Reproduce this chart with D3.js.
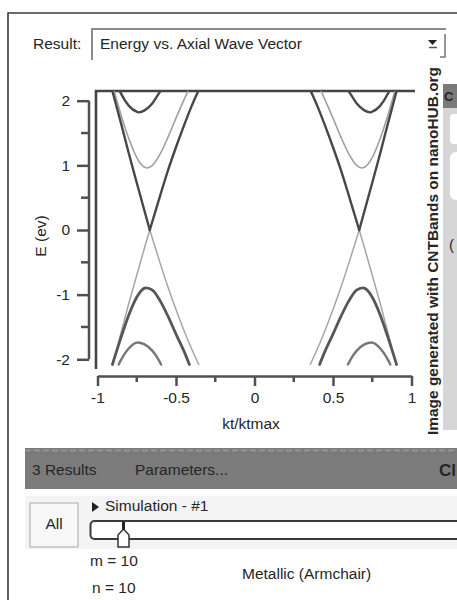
<!DOCTYPE html>
<html>
<head>
  <meta charset="utf-8">
  <title>CNTBands</title>
  <script src="https://cdn.jsdelivr.net/npm/d3@7"></script>
  <style>
    body { margin: 0; background: #fff; }
    text { font-family: "Liberation Sans", Arial, sans-serif; fill: #262626; }
  </style>
</head>
<body>
  <svg width="457" height="600" id="chart"></svg>
  <script>
    // axis ticks
    const xTicks = [-1, -0.5, 0, 0.5, 1];
    const xMinorTicks = [-0.75, -0.25, 0.25, 0.75];
    const yTicks = [-2, -1, 0, 1, 2];
    const yMinorTicks = [-1.5, -0.5, 0.5, 1.5];

    // bands: [kt/ktmax, E (eV)], cut where they leave the window
    const crossUp = [
      [[-0.905, 2.15], [-0.85, 1.65], [-0.80, 1.18], [-0.75, 0.73], [-0.70, 0.29], [-0.667, 0]],
      [[-0.667, 0], [-0.60, 0.54], [-0.55, 0.93], [-0.50, 1.28], [-0.45, 1.61], [-0.40, 1.92], [-0.358, 2.15]],
      [[0.358, 2.15], [0.40, 1.92], [0.45, 1.61], [0.50, 1.28], [0.55, 0.93], [0.60, 0.54], [0.667, 0]],
      [[0.667, 0], [0.70, 0.29], [0.75, 0.73], [0.80, 1.18], [0.85, 1.65], [0.905, 2.15]]
    ];
    const crossDown = [
      [[-0.905, -2.08], [-0.90, -2.04], [-0.85, -1.59], [-0.80, -1.13], [-0.75, -0.70], [-0.70, -0.27], [-0.667, 0]],
      [[-0.667, 0], [-0.60, -0.52], [-0.55, -0.89], [-0.50, -1.23], [-0.45, -1.55], [-0.40, -1.84], [-0.355, -2.08]],
      [[0.355, -2.08], [0.40, -1.84], [0.45, -1.55], [0.50, -1.23], [0.55, -0.89], [0.60, -0.52], [0.667, 0]],
      [[0.667, 0], [0.70, -0.27], [0.75, -0.70], [0.80, -1.13], [0.85, -1.59], [0.90, -2.04], [0.905, -2.08]]
    ];
    const sub1Up = [
      [[-0.894, 2.15], [-0.85, 1.78], [-0.80, 1.41], [-0.75, 1.12], [-0.70, 0.97], [-0.684, 0.96], [-0.65, 1.00], [-0.60, 1.18], [-0.55, 1.44], [-0.50, 1.73], [-0.45, 2.01], [-0.424, 2.15]],
      [[0.424, 2.15], [0.45, 2.01], [0.50, 1.73], [0.55, 1.44], [0.60, 1.18], [0.65, 1.00], [0.684, 0.96], [0.70, 0.97], [0.75, 1.12], [0.80, 1.41], [0.85, 1.78], [0.894, 2.15]]
    ];
    const sub1Down = [
      [[-0.905, -2.08], [-0.85, -1.66], [-0.80, -1.31], [-0.75, -1.04], [-0.70, -0.90], [-0.69, -0.895], [-0.65, -0.93], [-0.60, -1.10], [-0.55, -1.34], [-0.50, -1.61], [-0.45, -1.87], [-0.415, -2.08]],
      [[0.415, -2.08], [0.45, -1.87], [0.50, -1.61], [0.55, -1.34], [0.60, -1.10], [0.65, -0.93], [0.69, -0.895], [0.70, -0.90], [0.75, -1.04], [0.80, -1.31], [0.85, -1.66], [0.905, -2.08]]
    ];
    const sub2Up = [
      [[-0.858, 2.15], [-0.85, 2.11], [-0.80, 1.92], [-0.75, 1.83], [-0.735, 1.82], [-0.70, 1.85], [-0.65, 1.96], [-0.62, 2.07], [-0.599, 2.15]],
      [[0.599, 2.15], [0.62, 2.07], [0.65, 1.96], [0.70, 1.85], [0.735, 1.82], [0.75, 1.83], [0.80, 1.92], [0.85, 2.11], [0.858, 2.15]]
    ];
    const sub2Down = [
      [[-0.865, -2.08], [-0.85, -2.01], [-0.80, -1.83], [-0.745, -1.74], [-0.70, -1.77], [-0.65, -1.87], [-0.62, -1.97], [-0.595, -2.08]],
      [[0.595, -2.08], [0.62, -1.97], [0.65, -1.87], [0.70, -1.77], [0.745, -1.74], [0.80, -1.83], [0.85, -2.01], [0.865, -2.08]]
    ];

    const svg = d3.select('#chart');

    // outer window frame (top + left only)
    svg.append('path').attr('d', 'M8,600 V13 H457')
      .attr('fill', 'none').attr('stroke', '#3a3a3a').attr('stroke-width', 1.6);

    // result selector
    svg.append('text').attr('x', 33).attr('y', 49).style('font-size', '15.5px').text('Result:');
    svg.append('path').attr('d', 'M92,60 V29 H446')
      .attr('fill', 'none').attr('stroke', '#8c8c8c').attr('stroke-width', 2);
    svg.append('text').attr('x', 100).attr('y', 49).style('font-size', '15.5px').text('Energy vs. Axial Wave Vector');
    svg.append('path').attr('d', 'M428,40 L437,40 L432.5,45 Z').attr('fill', '#222');
    svg.append('line').attr('x1', 429).attr('x2', 437).attr('y1', 47.5).attr('y2', 47.5)
      .attr('stroke', '#555').attr('stroke-width', 1.5);
    svg.append('path').attr('d', 'M445,34 V57 H440').attr('fill', 'none')
      .attr('stroke', '#777').attr('stroke-width', 1.5);

    // plot
    const xScale = d3.scaleLinear().domain([-1, 1]).range([97.5, 411.5]);
    const yScale = d3.scaleLinear().domain([-2.15, 2.15]).range([369, 91]);
    const axisColor = '#505050';

    svg.append('clipPath').attr('id', 'plotclip')
      .append('rect').attr('x', 96).attr('y', 91).attr('width', 320).attr('height', 279);

    // plot box: top and left edges
    svg.append('path')
      .attr('d', `M${96},${yScale(-2.15)} V${yScale(2.15)} H${415}`)
      .attr('fill', 'none').attr('stroke', '#444').attr('stroke-width', 2.6);

    const line = d3.line()
      .x(d => xScale(d[0]))
      .y(d => yScale(d[1]))
      .curve(d3.curveMonotoneX);

    const bands = [
      { parts: crossDown, color: '#a6a6a6', width: 1.5 },
      { parts: sub1Up, color: '#a0a0a0', width: 1.6 },
      { parts: sub2Down, color: '#777777', width: 2.4 },
      { parts: sub1Down, color: '#575757', width: 2.8 },
      { parts: sub2Up, color: '#4a4a4a', width: 2.4 },
      { parts: crossUp, color: '#474747', width: 2.4 }
    ];
    const bandGroup = svg.append('g').attr('clip-path', 'url(#plotclip)');
    bands.forEach(b => {
      bandGroup.selectAll(null)
        .data(b.parts)
        .join('path')
        .attr('d', line)
        .attr('fill', 'none')
        .attr('stroke', b.color)
        .attr('stroke-width', b.width)
        .attr('stroke-linejoin', 'round')
        .attr('stroke-linecap', 'round');
    });

    // x axis, ticks pointing down
    const xAxisY = 376;
    const xAxisG = svg.append('g').attr('transform', `translate(0,${xAxisY})`)
      .call(d3.axisBottom(xScale).tickValues(xTicks).tickSize(10).tickSizeOuter(0)
        .tickFormat(d => d3.format('')(d).replace('−', '-')));
    xAxisG.select('.domain').attr('stroke', axisColor).attr('stroke-width', 2.5);
    xAxisG.selectAll('.tick line').attr('stroke', axisColor).attr('stroke-width', 2.5);
    xAxisG.selectAll('.tick text').attr('y', 16).attr('dy', '0.71em')
      .style('font-size', '15.5px').style('font-family', '"Liberation Sans", Arial, sans-serif').attr('fill', '#262626');
    xAxisG.selectAll('.minor').data(xMinorTicks).join('line').attr('class', 'minor')
      .attr('x1', d => xScale(d)).attr('x2', d => xScale(d)).attr('y1', 0).attr('y2', 6)
      .attr('stroke', axisColor).attr('stroke-width', 2.5);

    // y axis, ticks pointing left
    const yAxisX = 89;
    const yAxisG = svg.append('g').attr('transform', `translate(${yAxisX},0)`)
      .call(d3.axisLeft(yScale).tickValues(yTicks).tickSize(12).tickSizeOuter(0)
        .tickFormat(d => d3.format('')(d).replace('−', '-')));
    yAxisG.select('.domain').attr('stroke', axisColor).attr('stroke-width', 2.5)
      .attr('d', `M0,${yScale(2)}V${yScale(-2)}`);
    yAxisG.selectAll('.tick line').attr('stroke', axisColor).attr('stroke-width', 2.5);
    yAxisG.selectAll('.tick text').attr('x', -19)
      .style('font-size', '15.5px').style('font-family', '"Liberation Sans", Arial, sans-serif').attr('fill', '#262626');
    yAxisG.selectAll('.minor').data(yMinorTicks).join('line').attr('class', 'minor')
      .attr('x1', -8).attr('x2', 0).attr('y1', d => yScale(d)).attr('y2', d => yScale(d))
      .attr('stroke', axisColor).attr('stroke-width', 2.5);

    // axis titles
    svg.append('text').attr('transform', 'translate(46,236) rotate(-90)')
      .attr('text-anchor', 'middle').style('font-size', '15.5px').text('E (ev)');
    svg.append('text').attr('x', 251).attr('y', 429)
      .attr('text-anchor', 'middle').style('font-size', '15.5px').text('kt/ktmax');

    // right side panel (clipped app chrome)
    svg.append('rect').attr('x', 443).attr('y', 84).attr('width', 14).attr('height', 346).attr('fill', '#d6d6d6');
    svg.append('rect').attr('x', 443).attr('y', 84).attr('width', 14).attr('height', 24).attr('fill', '#7a7a7a');
    svg.append('text').attr('x', 444).attr('y', 101).style('font-size', '13px').style('font-weight', 'bold')
      .attr('fill', '#ddd').text('C');
    svg.append('rect').attr('x', 450).attr('y', 114).attr('width', 12).attr('height', 30).attr('rx', 4).attr('fill', '#fff');
    svg.append('rect').attr('x', 450).attr('y', 152).attr('width', 12).attr('height', 48).attr('rx', 6).attr('fill', '#fff');
    svg.append('text').attr('x', 449).attr('y', 250).style('font-size', '15px').attr('fill', '#444').text('(');

    // credit text
    svg.append('text').attr('transform', 'translate(438,435) rotate(-90)')
      .attr('textLength', 368).attr('lengthAdjust', 'spacingAndGlyphs')
      .style('font-size', '14.5px').style('font-weight', 'bold').attr('fill', '#333')
      .text('Image generated with CNTBands on nanoHUB.org');

    // results bar
    svg.append('rect').attr('x', 25).attr('y', 448).attr('width', 432).attr('height', 41).attr('fill', '#7b7b7b');
    svg.append('line').attr('x1', 25).attr('x2', 457).attr('y1', 450.5).attr('y2', 450.5)
      .attr('stroke', '#9a9a9a').attr('stroke-width', 1.5).attr('stroke-dasharray', '6,3');
    svg.append('text').attr('x', 32).attr('y', 475).style('font-size', '15.5px').attr('fill', '#262626').text('3 Results');
    svg.append('text').attr('x', 135).attr('y', 475).style('font-size', '15.5px').attr('fill', '#262626').text('Parameters...');
    svg.append('text').attr('x', 439).attr('y', 476).style('font-size', '17px').style('font-weight', 'bold')
      .attr('fill', '#e2e2e2').text('Cl');

    // simulation row
    svg.append('rect').attr('x', 25).attr('y', 496).attr('width', 432).attr('height', 53).attr('fill', '#f4f4f4');
    svg.append('rect').attr('x', 30).attr('y', 503).attr('width', 48).attr('height', 44)
      .attr('fill', '#f8f8f8').attr('stroke', '#b5b5b5').attr('stroke-width', 1.2);
    svg.append('text').attr('x', 54).attr('y', 529).attr('text-anchor', 'middle')
      .style('font-size', '15.5px').text('All');
    svg.append('path').attr('d', 'M92,502 L99,507 L92,512 Z').attr('fill', '#222');
    svg.append('text').attr('x', 105).attr('y', 511).style('font-size', '15.5px').text('Simulation - #1');

    svg.append('rect').attr('x', 90.5).attr('y', 521).attr('width', 380).attr('height', 18).attr('rx', 4)
      .attr('fill', '#fff').attr('stroke', '#3a3a3a').attr('stroke-width', 2);
    svg.append('line').attr('x1', 123.5).attr('x2', 123.5).attr('y1', 522).attr('y2', 532)
      .attr('stroke', '#222').attr('stroke-width', 3);
    svg.append('path').attr('d', 'M123.5,529 L129,535 L129,547 L118,547 L118,535 Z')
      .attr('fill', '#fff').attr('stroke', '#333').attr('stroke-width', 1.5);

    svg.append('text').attr('x', 90).attr('y', 566).style('font-size', '15.5px').text('m = 10');
    svg.append('text').attr('x', 92).attr('y', 593).style('font-size', '15.5px').text('n = 10');
    svg.append('text').attr('x', 242).attr('y', 579).style('font-size', '15.5px').text('Metallic (Armchair)');
  </script>
</body>
</html>
